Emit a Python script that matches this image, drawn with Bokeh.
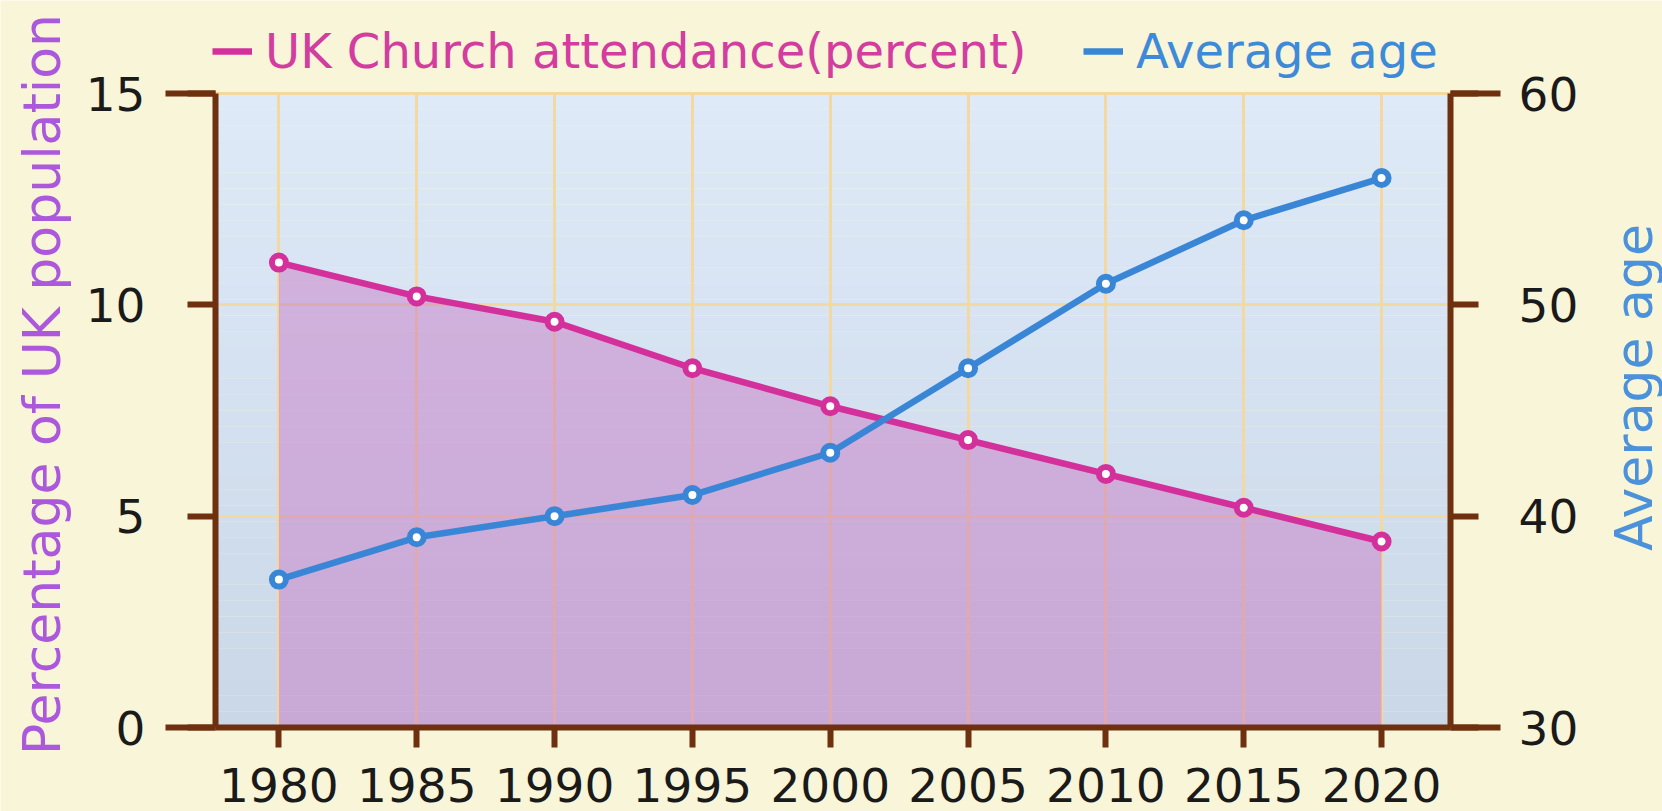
import math
from bokeh.plotting import figure
from bokeh.models import (Range1d, LinearAxis, FixedTicker, BoxAnnotation, Label,
                          Legend, LegendItem)
from bokeh.embed import file_html
from bokeh.resources import INLINE

# ---- data ----
years = [1980, 1985, 1990, 1995, 2000, 2005, 2010, 2015, 2020]
church_pct = [11.0, 10.2, 9.6, 8.5, 7.6, 6.8, 6.0, 5.2, 4.4]
avg_age = [37.0, 39.0, 40.0, 41.0, 43.0, 47.0, 51.0, 54.0, 56.0]
left_ticks = [0, 5, 10, 15]
right_ticks = [30, 40, 50, 60]
series_names = ["UK Church attendance(percent)", "Average age"]
left_title = "Percentage of UK population"
right_title = "Average age"

# ---- layout / style ----
FONT = "DejaVu Sans"
BROWN = "#6e300e"
MAGENTA = "#d4309b"
BLUE = "#3a86d6"
CREAM = "#f8f5d8"
W, H = 1662, 811
# plot region in pixels (left, right, top, bottom)
PL, PR, PT, PB = 215, 1450, 93, 727
X_LO, X_HI = 1977.7, 2022.5
Y_LO, Y_HI = left_ticks[0], left_ticks[-1]
A_LO, A_HI = right_ticks[0], right_ticks[-1]


def full_range(lo, hi, p_lo, p_hi, total):
    """range over the whole canvas so that lo..hi maps to pixels p_lo..p_hi"""
    s = (hi - lo) / (p_hi - p_lo)
    return Range1d(lo - p_lo * s, hi + (total - p_hi) * s)


p = figure(width=W, height=H, output_backend="svg", toolbar_location=None,
           x_range=full_range(X_LO, X_HI, PL, PR, W),
           y_range=full_range(Y_LO, Y_HI, H - PB, H - PT, H),
           min_border_left=0, min_border_right=0, min_border_top=0, min_border_bottom=0)
p.extra_y_ranges = {"age": full_range(A_LO, A_HI, H - PB, H - PT, H)}
p.border_fill_color = CREAM
p.background_fill_color = CREAM
p.outline_line_color = None

# vertical gradient of the plot background (style only)
N = 40
c0 = (0xc9, 0xd7, 0xe7)
c1 = (0xdf, 0xea, 0xf8)
for i in range(N):
    t = (i + 0.5) / N
    col = "#%02x%02x%02x" % tuple(int(round(a + (b - a) * t)) for a, b in zip(c0, c1))
    p.add_layout(BoxAnnotation(left=X_LO, right=X_HI,
                               bottom=Y_LO + (Y_HI - Y_LO) * i / N,
                               top=Y_LO + (Y_HI - Y_LO) * (i + 1) / N,
                               fill_color=col, fill_alpha=1, line_color=None,
                               level="image"))

# axes (fixed at the plot region edges)
xa = p.xaxis[0]
xa.ticker = FixedTicker(ticks=years)
xa.fixed_location = Y_LO
xa.bounds = (X_LO, X_HI)
ya = p.yaxis[0]
ya.ticker = FixedTicker(ticks=left_ticks, minor_ticks=[Y_LO, Y_HI])
ya.fixed_location = X_LO
ya.bounds = (Y_LO, Y_HI)
ra = LinearAxis(y_range_name="age",
                ticker=FixedTicker(ticks=right_ticks, minor_ticks=[A_LO, A_HI]))
ra.fixed_location = X_HI
ra.bounds = (A_LO, A_HI)
p.add_layout(ra, "right")

for ax in (xa, ya, ra):
    ax.axis_line_color = BROWN
    ax.axis_line_width = 6
    ax.major_tick_line_color = BROWN
    ax.major_tick_line_width = 6
    ax.minor_tick_line_color = BROWN
    ax.minor_tick_line_width = 6
    ax.major_tick_in = 0
    ax.minor_tick_in = 0
    ax.major_label_text_font = FONT
    ax.major_label_text_font_size = "47px"
    ax.major_label_text_color = "#1a1a1a"
xa.major_tick_out = 20
xa.minor_tick_out = 0
xa.major_label_standoff = 20
ya.major_tick_out = 28
ya.minor_tick_out = 50
ya.major_label_standoff = 20
ra.major_tick_out = 28
ra.minor_tick_out = 50
ra.major_label_standoff = 18

# grid
p.xgrid.ticker = FixedTicker(ticks=years)
p.ygrid.ticker = FixedTicker(ticks=left_ticks)
p.xgrid.cross_bounds = (Y_LO, Y_HI)
p.ygrid.cross_bounds = (X_LO, X_HI)
for g in (p.xgrid[0], p.ygrid[0]):
    g.grid_line_color = "#f3d8a0"
    g.grid_line_width = 3
    g.grid_line_alpha = 1

# area + lines
p.varea(x=years, y1=[0] * len(years), y2=church_pct, fill_color="#c870c0", fill_alpha=0.45)
l1 = p.line(years, church_pct, line_color=MAGENTA, line_width=6.5)
p.scatter(years, church_pct, marker="circle", size=14, fill_color="white",
          line_color=MAGENTA, line_width=6)
l2 = p.line(years, avg_age, line_color=BLUE, line_width=6.5, y_range_name="age")
p.scatter(years, avg_age, marker="circle", size=14, fill_color="white",
          line_color=BLUE, line_width=6, y_range_name="age")


# legends (two, for different text colours)
def make_legend(renderer, label, color, loc):
    lg = Legend(items=[LegendItem(label=label, renderers=[renderer])],
                location=loc, orientation="horizontal", padding=0, margin=0,
                spacing=0, label_standoff=13, glyph_width=40, glyph_height=46,
                label_height=46, label_text_font=FONT, label_text_font_size="48px",
                label_text_color=color, border_line_alpha=0,
                background_fill_alpha=0)
    p.add_layout(lg)


make_legend(l1, series_names[0], "#d33d9f", (212, H - 79))
make_legend(l2, series_names[1], "#3d8ad8", (1083, H - 79))

# axis titles
p.add_layout(Label(x=41, y=H - 384, x_units="screen", y_units="screen", text=left_title,
                   angle=math.pi / 2, text_align="center", text_baseline="middle",
                   text_font=FONT, text_font_size="52px", text_color="#ac58dc"))
p.add_layout(Label(x=1633, y=H - 387, x_units="screen", y_units="screen", text=right_title,
                   angle=math.pi / 2, text_align="center", text_baseline="middle",
                   text_font=FONT, text_font_size="52px", text_color="#4b92da"))

open("out.html", "w").write(file_html(p, INLINE))
